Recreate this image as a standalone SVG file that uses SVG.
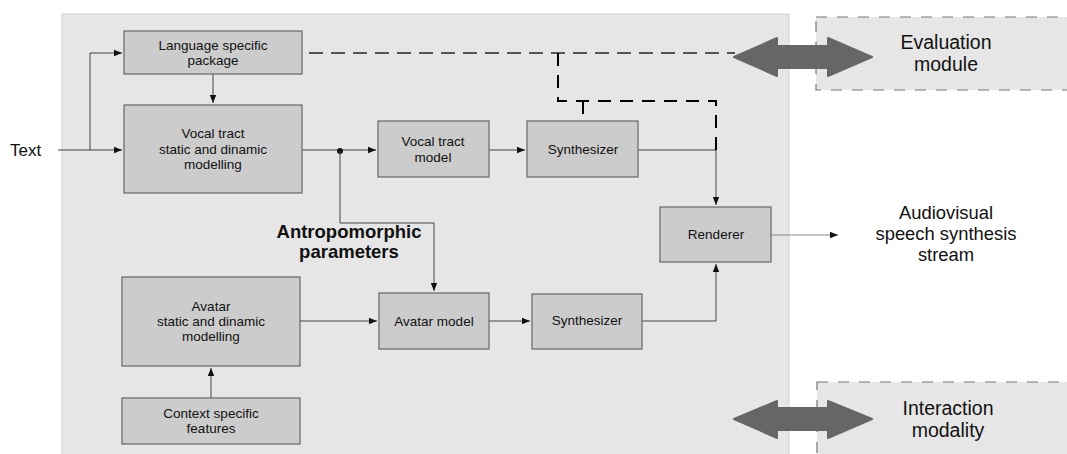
<svg xmlns="http://www.w3.org/2000/svg" width="1067" height="454" viewBox="0 0 1067 454">
<defs>
<style>
.box{fill:#cccccc;stroke:#666666;stroke-width:1.2}
.t{font-family:"Liberation Sans",Arial,sans-serif;font-size:13.5px;fill:#111;text-anchor:middle}
.big{font-family:"Liberation Sans",Arial,sans-serif;font-size:19.5px;fill:#111;text-anchor:middle}
.out{font-family:"Liberation Sans",Arial,sans-serif;font-size:18.4px;fill:#111;text-anchor:middle}
.bold{font-family:"Liberation Sans",Arial,sans-serif;font-size:18.5px;font-weight:bold;fill:#111;text-anchor:middle}
.ln{fill:none;stroke:#444;stroke-width:1}
.dashg{fill:none;stroke:#555;stroke-width:2;stroke-dasharray:14,8}
.dashb{fill:none;stroke:#000;stroke-width:2;stroke-dasharray:13,9}
.dbl{fill:#666;stroke:#666;stroke-width:2;stroke-linejoin:round}
.ext{fill:#e6e6e6;stroke:#777;stroke-width:1.2;stroke-dasharray:11,10}
</style>
<marker id="ah" viewBox="0 0 10 10" refX="10" refY="5" markerWidth="8" markerHeight="8" markerUnits="userSpaceOnUse" orient="auto">
<path d="M0,1 L10,5 L0,9 z" fill="#111"/>
</marker>
</defs>
<rect width="1067" height="454" fill="#ffffff"/>
<g id="main-area">
<rect x="62" y="14" width="727" height="445" fill="#e6e6e6" stroke="#d0d0d0" stroke-width="1"/>
</g>
<g id="evaluation-module">
<rect class="ext" x="816" y="17" width="260" height="73"/>
<text class="big" x="946" y="49">Evaluation</text>
<text class="big" x="946" y="71">module</text>
</g>
<g id="interaction-modality">
<rect class="ext" x="817" y="382" width="260" height="80"/>
<text class="big" x="948" y="415">Interaction</text>
<text class="big" x="948" y="437">modality</text>
</g>
<g id="connectors">
<path class="ln" d="M58,150 H122" marker-end="url(#ah)"/>
<path class="ln" d="M90,150 V53 H122" marker-end="url(#ah)"/>
<path class="ln" d="M213,74 V103" marker-end="url(#ah)"/>
<path class="ln" d="M302,150 H376" marker-end="url(#ah)"/>
<circle cx="340" cy="151" r="3" fill="#111"/>
<path class="ln" d="M340,151 V223 H434 V291" marker-end="url(#ah)"/>
<path class="ln" d="M489,150 H525" marker-end="url(#ah)"/>
<path class="ln" d="M638,150 H716 V205" marker-end="url(#ah)"/>
<path class="ln" d="M300,321 H377" marker-end="url(#ah)"/>
<path class="ln" d="M489,321 H530" marker-end="url(#ah)"/>
<path class="ln" d="M642,321 H716 V264" marker-end="url(#ah)"/>
<path class="ln" d="M211,398 V368" marker-end="url(#ah)"/>
<path fill="none" stroke="#888" stroke-width="1" d="M771,235 H838" marker-end="url(#ah)"/>
<path class="dashg" d="M309,53 H735"/>
<path class="dashb" d="M558,53 V101 H716 V150"/>
<path class="dashb" stroke-dasharray="8,5" d="M583,101 V121"/>
<polygon class="dbl" points="734,57 777,38 777,46 828,46 828,38 872,57 828,76 828,68 777,68 777,76"/>
<polygon class="dbl" points="734,419 777,401 777,408 828,408 828,401 872,419 828,438 828,430 777,430 777,438"/>
</g>
<g id="text-input">
<text x="10" y="156" font-family="Liberation Sans, Arial, sans-serif" font-size="17px" fill="#111">Text</text>
</g>
<g id="language-package">
<rect class="box" x="124" y="31" width="178" height="43"/>
<text class="t" x="213" y="50">Language specific</text>
<text class="t" x="213" y="65">package</text>
</g>
<g id="vocal-tract-modelling">
<rect class="box" x="124" y="105" width="178" height="88"/>
<text class="t" x="213" y="138">Vocal tract</text>
<text class="t" x="213" y="154">static and dinamic</text>
<text class="t" x="213" y="169">modelling</text>
</g>
<g id="vocal-tract-model">
<rect class="box" x="378" y="121" width="111" height="56"/>
<text class="t" x="433" y="146">Vocal tract</text>
<text class="t" x="433" y="162">model</text>
</g>
<g id="synthesizer-top">
<rect class="box" x="527" y="121" width="111" height="56"/>
<text class="t" x="583" y="154">Synthesizer</text>
</g>
<g id="renderer">
<rect class="box" x="660" y="207" width="111" height="55"/>
<text class="t" x="716" y="239">Renderer</text>
</g>
<g id="output-stream">
<text class="out" x="946" y="219">Audiovisual</text>
<text class="out" x="946" y="240">speech synthesis</text>
<text class="out" x="946" y="261">stream</text>
</g>
<g id="antropomorphic-label">
<text class="bold" x="349" y="238">Antropomorphic</text>
<text class="bold" x="349" y="258">parameters</text>
</g>
<g id="avatar-modelling">
<rect class="box" x="122" y="277" width="178" height="89"/>
<text class="t" x="211" y="311">Avatar</text>
<text class="t" x="211" y="326">static and dinamic</text>
<text class="t" x="211" y="341">modelling</text>
</g>
<g id="context-features">
<rect class="box" x="122" y="398" width="178" height="46"/>
<text class="t" x="211" y="418">Context specific</text>
<text class="t" x="211" y="433">features</text>
</g>
<g id="avatar-model">
<rect class="box" x="379" y="293" width="110" height="56"/>
<text class="t" x="434" y="326">Avatar model</text>
</g>
<g id="synthesizer-bottom">
<rect class="box" x="532" y="294" width="110" height="55"/>
<text class="t" x="587" y="325">Synthesizer</text>
</g>
</svg>
